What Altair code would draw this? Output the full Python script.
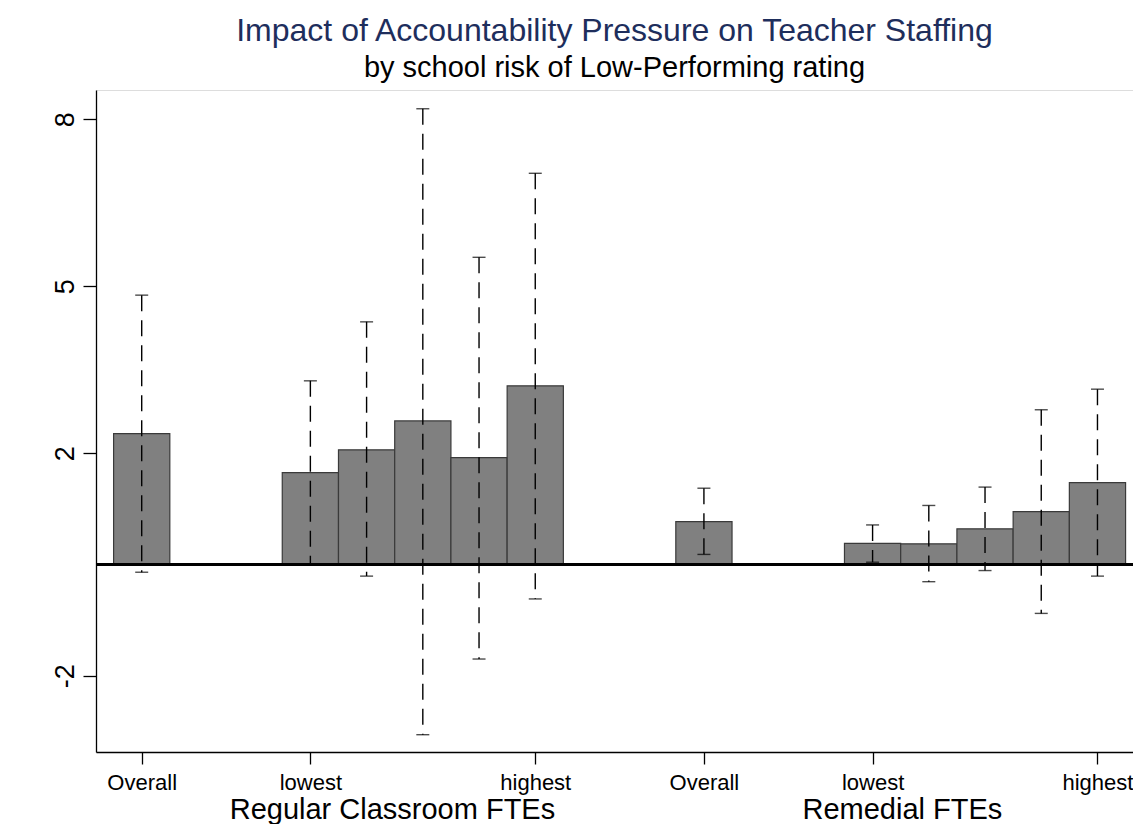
import altair as alt
import pandas as pd

# ---- data ----
groups = ["Regular Classroom FTEs", "Remedial FTEs"]
levels = ["Overall", "lowest", "2nd", "3rd", "4th", "highest"]
shown_levels = ["Overall", "lowest", "highest"]

reg_est = [2.35, 1.65, 2.06, 2.58, 1.92, 3.21]
reg_lo = [-0.14, 0.01, -0.21, -3.06, -1.70, -0.62]
reg_hi = [4.84, 3.30, 4.36, 8.19, 5.52, 7.03]

rem_est = [0.77, 0.38, 0.37, 0.64, 0.95, 1.47]
rem_lo = [0.18, 0.04, -0.31, -0.11, -0.88, -0.21]
rem_hi = [1.37, 0.71, 1.06, 1.39, 2.78, 3.15]

y_ticks = [-2, 2, 5, 8]

# ---- layout (slot index of each bar: Overall, gap, then the five risk levels) ----
GROUP_STRIDE = 10
def slot(g, i):
    return g * GROUP_STRIDE + (0 if i == 0 else i + 2)

group_label_slot = [4.46, 13.53]

est = [reg_est, rem_est]
lo = [reg_lo, rem_lo]
hi = [reg_hi, rem_hi]

rows = []
for g, grp in enumerate(groups):
    for i, lev in enumerate(levels):
        rows.append({"group": grp, "level": lev, "slot": slot(g, i),
                     "est": est[g][i], "lo": lo[g][i], "hi": hi[g][i]})
df = pd.DataFrame(rows)

tick_pairs = [(slot(g, levels.index(l)), l) for g in range(len(groups)) for l in shown_levels]
label_expr = "''"
for s, lab in reversed(tick_pairs):
    label_expr = f"datum.value == {s} ? '{lab}' : ({label_expr})"

glab = pd.DataFrame({"group": groups, "pos": group_label_slot})

FONT = "Liberation Sans"
W, H = 1037, 662
xscale = alt.Scale(domain=[-0.813, 17.632], nice=False, zero=False)
yscale = alt.Scale(domain=[-3.371, 8.527], nice=False, zero=False)

xaxis = alt.Axis(values=[s for s, _ in tick_pairs], labelExpr=label_expr, title="",
                 grid=False, tickSize=12, tickWidth=1.3, tickColor="#000000",
                 domainColor="#000000", domainWidth=1.3, labelFontSize=22,
                 labelFont=FONT, labelColor="#000000", labelPadding=8,
                 labelFlush=False, labelOverlap=False, labelBound=False)
yaxis = alt.Axis(values=y_ticks, labelExpr="'' + datum.value", title="", grid=False,
                 tickSize=13, tickWidth=1.3, tickColor="#000000",
                 domainColor="#000000", domainWidth=1.3, labelFontSize=27,
                 labelFont=FONT, labelColor="#000000", labelAngle=270,
                 labelAlign="center", labelBaseline="alphabetic", labelPadding=10,
                 labelOverlap=False, labelFlush=False)

base = alt.Chart(df)

bars = base.transform_calculate(
    x0="datum.slot - 0.5", x1="datum.slot + 0.5"
).mark_rect(fill="#808080", stroke="#3a3a3a", strokeWidth=1.2).encode(
    x=alt.X("x0:Q", scale=xscale, axis=xaxis),
    x2="x1:Q",
    y=alt.Y("est:Q", scale=yscale, axis=yaxis),
    y2=alt.datum(0),
)

zero_line = alt.Chart(df).mark_rule(color="#000000", strokeWidth=2).encode(
    y=alt.datum(0), x=alt.value(0), x2=alt.value(W)
)

err = base.mark_rule(color="#000000", strokeWidth=1.4, strokeDash=[16, 9]).encode(
    x=alt.X("slot:Q"), y="hi:Q", y2="lo:Q"
)
cap_hi = base.mark_tick(orient="horizontal", color="#000000", size=13, thickness=1.4).encode(
    x=alt.X("slot:Q"), y="hi:Q"
)
cap_lo = base.mark_tick(orient="horizontal", color="#000000", size=13, thickness=1.4).encode(
    x=alt.X("slot:Q"), y="lo:Q"
)

group_text = alt.Chart(glab).mark_text(
    font=FONT, fontSize=29, align="center", baseline="alphabetic", color="#000000"
).encode(x=alt.X("pos:Q"), y=alt.value(729), text="group:N")

chart = alt.layer(bars, zero_line, err, cap_hi, cap_lo, group_text).properties(
    width=W, height=H,
    title=alt.Title(
        "Impact of Accountability Pressure on Teacher Staffing",
        subtitle="by school risk of Low-Performing rating",
        font=FONT, fontSize=32, fontWeight="normal", color="#1e2e5c",
        subtitleFont=FONT, subtitleFontSize=29, subtitleColor="#000000",
        anchor="middle", offset=6, subtitlePadding=6,
    ),
    autosize=alt.AutoSizeParams(type="none"),
    padding={"left": 88, "top": 82, "right": 0, "bottom": 72},
).configure_view(strokeWidth=0, stroke="transparent").configure(background="#ffffff")

chart.save("out.html", embed_options={"renderer": "svg", "actions": False})
